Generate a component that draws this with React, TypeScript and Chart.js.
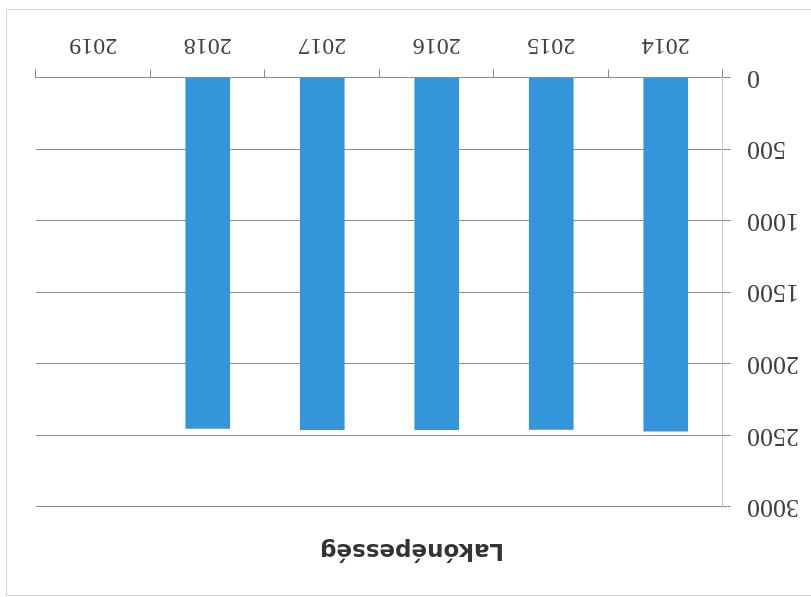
import React, { useEffect, useRef } from "react";
import { Chart, registerables } from "chart.js";

Chart.register(...registerables);

const titleText = "Lakónépesség";
const years = ["2014", "2015", "2016", "2017", "2018", "2019"];
const population = [2472, 2461, 2463, 2463, 2454, null];
const yTicks = [0, 500, 1000, 1500, 2000, 2500, 3000];

const titlePlugin = {
  id: "centeredTitle",
  afterDraw(chart: any) {
    const ctx = chart.ctx;
    ctx.save();
    ctx.font = "bold 23px 'DejaVu Sans'";
    ctx.fillStyle = "#333333";
    ctx.textAlign = "center";
    ctx.textBaseline = "middle";
    ctx.fillText(titleText, 399, 47);
    ctx.restore();
  },
};

export default function App() {
  const ref = useRef<HTMLCanvasElement | null>(null);

  useEffect(() => {
    if (!ref.current) return;
    const chart = new Chart(ref.current, {
      type: "bar",
      data: {
        labels: years,
        datasets: [
          {
            label: titleText,
            data: population,
            backgroundColor: "#3396da",
            borderWidth: 0,
            barPercentage: 0.39,
            categoryPercentage: 1,
          },
        ],
      },
      plugins: [titlePlugin],
      options: {
        responsive: false,
        animation: false,
        layout: { padding: { left: 0, right: 36, top: 90, bottom: 0 } },
        plugins: {
          legend: { display: false },
          tooltip: { enabled: false },
          title: { display: false },
        },
        scales: {
          x: {
            offset: true,
            grid: {
              offset: true,
              drawOnChartArea: false,
              drawTicks: true,
              tickLength: 8,
              color: "#8c8c8c",
            },
            border: { display: true, color: "#8c8c8c" },
            ticks: {
              color: "#404040",
              font: { family: "'Liberation Serif'", size: 24 },
              padding: 10,
              maxRotation: 0,
            },
            afterFit: (s: any) => {
              s.height = 77.5;
            },
          },
          y: {
            min: 0,
            max: 3000,
            afterBuildTicks: (s: any) => {
              s.ticks = yTicks.map((v) => ({ value: v }));
            },
            grid: {
              color: "#8c8c8c",
              tickLength: 8,
              drawTicks: true,
            },
            border: { display: true, color: "#c8c8c8" },
            ticks: {
              color: "#404040",
              font: { family: "'Liberation Serif'", size: 26 },
              padding: 16,
              callback: (v: any) => String(v),
            },
            afterFit: (s: any) => {
              s.width = 88;
            },
          },
        },
      },
    });
    return () => chart.destroy();
  }, []);

  return (
    <div
      style={{
        position: "absolute",
        left: 0,
        top: 0,
        width: 811,
        height: 597,
        transform: "rotate(180deg)",
        background: "#ffffff",
        overflow: "hidden",
      }}
    >
      <div
        style={{
          position: "absolute",
          left: -2,
          top: 1,
          width: 805,
          height: 585,
          border: "1px solid #d4d4d4",
        }}
      />
      <canvas ref={ref} width={811} height={597} style={{ position: "absolute", left: 0, top: 0 }} />
    </div>
  );
}
